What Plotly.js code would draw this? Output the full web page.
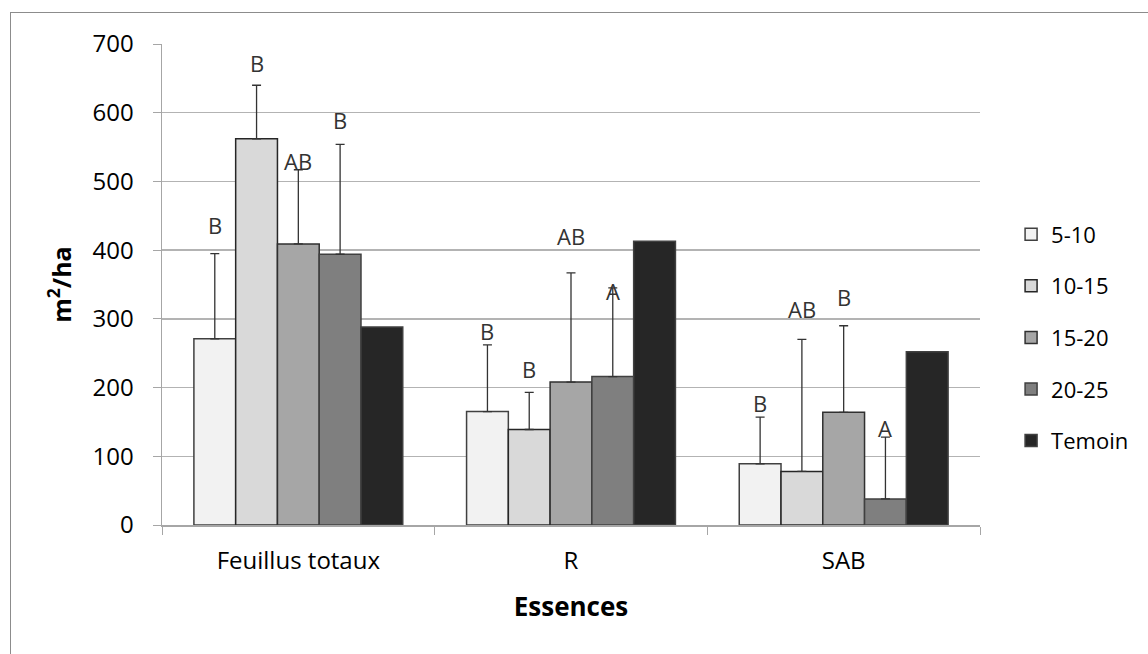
<!DOCTYPE html>
<html><head><meta charset="utf-8">
<script src="https://cdn.plot.ly/plotly-3.0.1.min.js"></script>
<style>
html,body{margin:0;padding:0;background:#fff;}
#wrap{position:relative;width:1148px;height:654px;overflow:hidden;}
#chart{width:1148px;height:654px;}
#frame{position:absolute;left:10px;top:12px;width:1200px;height:700px;border-left:1.5px solid #8c8c8c;border-top:1.5px solid #8c8c8c;pointer-events:none;}
</style></head>
<body><div id="wrap"><div id="chart"></div><div id="frame"></div></div>
<script>
const categories = ["Feuillus totaux", "R", "SAB"];
const seriesNames = ["5-10", "10-15", "15-20", "20-25", "Temoin"];
const v510 = [271, 165, 89];
const v1015 = [562, 139, 78];
const v1520 = [409, 208, 164];
const v2025 = [394, 216, 38];
const vTemoin = [288, 413, 252];
const errTop510 = [395, 262, 157];
const errTop1015 = [640, 193, 270];
const errTop1520 = [517, 367, 290];
const errTop2025 = [554, 345, 128];
const letters510 = ["B", "B", "B"];
const letters1015 = ["B", "B", "AB"];
const letters1520 = ["AB", "AB", "B"];
const letters2025 = ["B", "A", "A"];
const letterY510 = [436, 283, 178];
const letterY1015 = [672, 227, 314];
const letterY1520 = [530, 421, 332];
const letterY2025 = [589, 340, 141];

const values = [v510, v1015, v1520, v2025, vTemoin];
const errTops = [errTop510, errTop1015, errTop1520, errTop2025, null];
const letters = [letters510, letters1015, letters1520, letters2025];
const letterYs = [letterY510, letterY1015, letterY1520, letterY2025];
const colors = ["#f2f2f2", "#d9d9d9", "#a6a6a6", "#7f7f7f", "#262626"];
const lineCols = ["#404040", "#262626", "#303030", "#404040", "#404040"];

const traces = values.map((vals, i) => {
  const t = {
    type: "bar", name: seriesNames[i], x: categories, y: vals,
    legendgroup: "g" + i,
    marker: {color: colors[i], line: {color: lineCols[i], width: 1.5}}
  };
  if (errTops[i]) {
    t.error_y = {type: "data", symmetric: false,
      array: errTops[i].map((e, k) => e - vals[k]),
      arrayminus: vals.map(() => 0),
      color: "#333333", thickness: 1.3, width: 4.5};
  }
  return t;
});

const bargap = 0.234;
const barW = (1 - bargap) / 5;
const annotations = [];
letters.forEach((arr, i) => {
  arr.forEach((txt, k) => {
    annotations.push({x: k + (i - 2) * barW, y: letterYs[i][k], xref: "x", yref: "y",
      text: txt, showarrow: false, font: {family: "Open Sans, sans-serif", size: 22, color: "#333"}});
  });
});

const layout = {
  width: 1148, height: 654,
  margin: {l: 162, r: 168, t: 44, b: 129},
  paper_bgcolor: "#fff", plot_bgcolor: "#fff",
  barmode: "group", bargap: bargap, bargroupgap: 0,
  font: {family: "Open Sans, sans-serif", size: 22, color: "#000"},
  xaxis: {type: "category", showline: true, linecolor: "#a6a6a6", linewidth: 1.5,
    ticks: "outside", tickson: "boundaries", ticklen: 8, tickcolor: "#a6a6a6",
    tickfont: {size: 24, color: "#000"}, ticklabelstandoff: 14,
    title: {text: "<b>Essences</b>", font: {size: 26, color: "#000"}, standoff: 22},
    showgrid: false, fixedrange: true},
  yaxis: {range: [0, 700], dtick: 100, showline: true, linecolor: "#a6a6a6", linewidth: 1.5,
    ticks: "outside", ticklen: 8, tickcolor: "#a6a6a6",
    gridcolor: "#b3b3b3", gridwidth: 1.5, zeroline: false,
    tickfont: {size: 24, color: "#000"}, ticklabelstandoff: 14,
    title: {text: "<b>m<sup>2</sup>/ha</b>", font: {size: 25, color: "#000"}, standoff: 14}},
  legend: {x: 1.038, y: 0.39, yanchor: "middle", xanchor: "left",
    font: {size: 22, color: "#000"}, tracegroupgap: 20, itemwidth: 30},
  annotations: annotations,
  showlegend: true
};
Plotly.newPlot("chart", traces, layout, {displayModeBar: false, staticPlot: true});
</script></body></html>
